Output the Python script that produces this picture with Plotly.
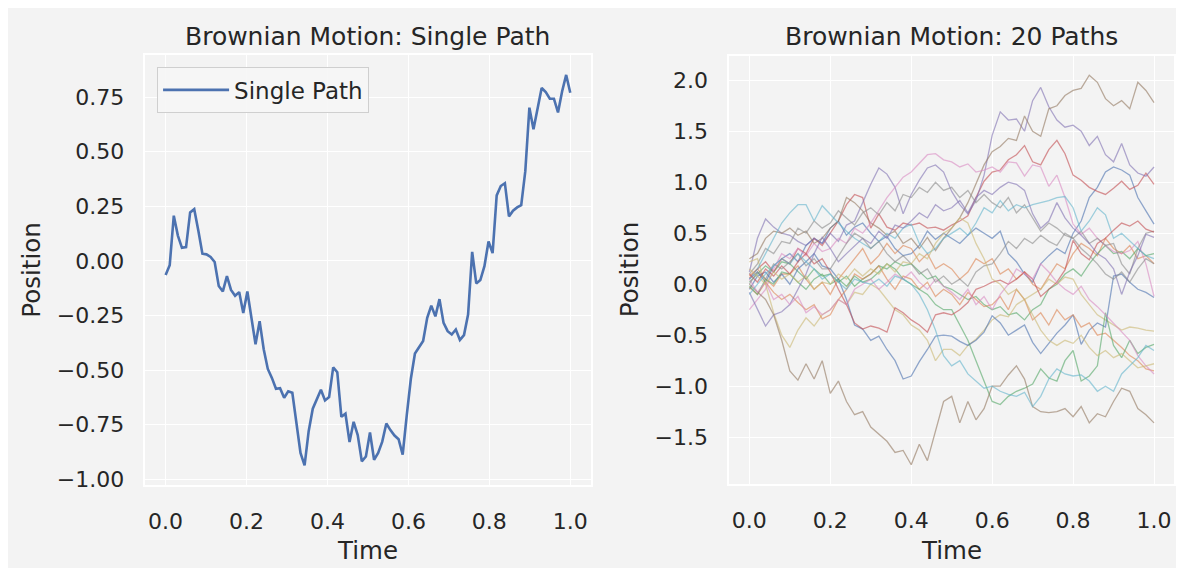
import numpy as np
import plotly.graph_objects as go

# ---------------- data ----------------
single_path = [
    -0.065, -0.020, 0.207, 0.116, 0.060, 0.063, 0.222, 0.237, 0.139, 0.033,
    0.030, 0.018, -0.005, -0.115, -0.140, -0.070, -0.133, -0.160, -0.143, -0.239,
    -0.140, -0.260, -0.382, -0.276, -0.405, -0.495, -0.536, -0.586, -0.583, -0.627,
    -0.597, -0.604, -0.737, -0.880, -0.937, -0.780, -0.677, -0.631, -0.590, -0.639,
    -0.624, -0.488, -0.510, -0.714, -0.700, -0.830, -0.737, -0.798, -0.918, -0.896,
    -0.786, -0.911, -0.880, -0.828, -0.745, -0.775, -0.800, -0.817, -0.888, -0.707,
    -0.540, -0.424, -0.393, -0.367, -0.261, -0.205, -0.254, -0.175, -0.284, -0.322,
    -0.337, -0.314, -0.362, -0.340, -0.246, 0.041, -0.103, -0.088, -0.024, 0.089,
    0.036, 0.300, 0.343, 0.356, 0.204, 0.230, 0.245, 0.255, 0.411, 0.702,
    0.603, 0.698, 0.792, 0.773, 0.743, 0.743, 0.680, 0.776, 0.852, 0.770,
]

path_01 = [0.05, 0.12, 0.02, 0.18, 0.25, 0.30, 0.22, 0.38, 0.45, 0.40,
           0.55, 0.62, 0.48, 0.56, 0.60, 0.50, 0.42, 0.47, 0.35, 0.28,
           0.30, 0.38, 0.52, 0.44, 0.50, 0.45, 0.40, 0.48, 0.55, 0.50,
           0.45, 0.52, 0.30, 0.22, 0.10, 0.02, 0.20, 0.28, 0.35, 0.30,
           0.50, 0.62, 0.85, 0.95, 1.10, 1.15, 1.12, 1.07, 0.85, 0.72, 0.59]
path_02 = [-0.05, 0.08, 0.12, 0.02, 0.10, 0.00, 0.15, 0.22, 0.30, 0.18,
           0.15, 0.05, -0.15, -0.40, -0.44, -0.55, -0.51, -0.64, -0.75, -0.93,
           -0.90, -0.76, -0.64, -0.51, -0.50, -0.51, -0.56, -0.60, -0.55, -0.47,
           -0.31, -0.38, -0.50, -0.45, -0.40, -0.57, -0.68, -0.58, -0.48, -0.40,
           -0.30, -0.59, -0.45, -0.38, -0.42, 0.08, 0.10, 0.02, -0.05, -0.08, -0.13]
path_03 = [0.08, 0.15, 0.05, -0.02, 0.10, 0.10, 0.18, 0.05, -0.05, 0.02,
           -0.10, 0.05, 0.15, 0.25, 0.35, 0.20, 0.28, 0.40, 0.30, 0.38,
           0.35, 0.22, 0.30, 0.15, 0.20, 0.15, 0.05, 0.12, 0.25, 0.20,
           0.25, 0.10, 0.15, 0.05, 0.12, 0.00, -0.05, 0.08, 0.20, 0.15,
           0.30, 0.40, 0.35, 0.28, 0.45, 0.35, 0.30, 0.38, 0.25, 0.28, 0.20]
path_04 = [-0.03, -0.10, 0.02, -0.08, -0.15, -0.10, -0.18, -0.25, -0.20, -0.34,
           -0.30, -0.15, -0.05, 0.10, 0.05, 0.10, 0.18, 0.05, -0.05, 0.08,
           0.05, -0.05, 0.02, -0.12, -0.05, -0.10, -0.20, -0.08, -0.15, -0.22,
           -0.20, -0.12, -0.25, -0.05, -0.15, -0.35, -0.28, -0.40, -0.25, -0.35,
           -0.30, -0.42, -0.38, -0.50, -0.48, -0.55, -0.62, -0.70, -0.75, -0.83, -0.85]
path_05 = [0.02, 0.10, 0.18, 0.12, 0.22, 0.20, 0.12, 0.05, 0.15, 0.08,
           0.10, 0.02, 0.08, -0.02, 0.05, 0.10, 0.18, 0.15, 0.22, 0.18,
           0.20, 0.12, 0.05, 0.08, -0.02, -0.05, -0.10, -0.15, -0.12, -0.20,
           -0.25, -0.22, -0.30, -0.28, -0.35, -0.25, -0.20, -0.05, 0.00, 0.10,
           0.15, 0.08, 0.20, 0.30, 0.38, 0.30, 0.32, 0.25, 0.35, 0.28, 0.30]
path_06 = [-0.02, -0.10, 0.05, 0.00, 0.12, 0.10, 0.02, -0.05, 0.05, 0.10,
           0.00, 0.05, -0.02, 0.08, 0.02, 0.05, 0.12, 0.20, 0.15, 0.05,
           0.00, -0.05, -0.10, -0.20, -0.25, -0.25, -0.40, -0.55, -0.75, -0.95,
           -1.15, -1.18, -1.10, -1.05, -1.02, -0.98, -0.83, -0.92, -0.95, -0.75,
           -0.65, -0.95, -0.90, -0.80, -0.28, -0.60, -0.72, -0.55, -0.68, -0.62, -0.59]
path_07 = [0.06, 0.15, 0.22, 0.12, 0.25, 0.20, 0.35, 0.30, 0.45, 0.38,
           0.50, 0.62, 0.78, 0.88, 0.85, 0.55, 0.69, 0.56, 0.53, 0.60,
           0.58, 0.60, 0.55, 0.56, 0.53, 0.58, 0.62, 0.67, 0.85, 1.01,
           1.10, 1.12, 1.22, 1.27, 1.36, 1.20, 1.17, 1.32, 1.41, 1.28,
           1.07, 1.02, 0.95, 0.91, 0.88, 0.94, 1.01, 0.93, 0.97, 1.09, 0.98]
path_08 = [0.10, 0.02, 0.15, 0.08, 0.18, 0.10, 0.22, 0.30, 0.20, 0.25,
           0.12, -0.05, -0.20, -0.38, -0.44, -0.41, -0.43, -0.47, -0.23, -0.28,
           -0.35, -0.40, -0.47, -0.30, -0.28, -0.30, -0.25, -0.18, -0.05, -0.02,
           0.02, 0.04, 0.00, 0.05, 0.12, 0.05, -0.12, -0.05, 0.02, 0.14,
           0.43, 0.30, 0.24, 0.40, 0.45, 0.53, 0.60, 0.57, 0.62, 0.54, 0.51]
path_09 = [0.12, 0.45, 0.64, 0.56, 0.50, 0.48, 0.42, 0.38, 0.45, 0.40,
           0.50, 0.42, 0.58, 0.62, 0.80, 0.98, 1.14, 1.08, 0.95, 0.69,
           0.88, 1.02, 1.14, 1.17, 1.10, 0.91, 0.78, 0.69, 0.82, 1.07,
           1.46, 1.69, 1.61, 1.62, 1.50, 1.80, 1.93, 1.74, 1.61, 1.54,
           1.56, 1.50, 1.36, 1.45, 1.27, 1.20, 1.38, 1.17, 1.09, 1.06, 1.15]
path_10 = [-0.08, -0.25, -0.41, -0.30, -0.27, -0.20, -0.05, 0.10, 0.30, 0.46,
           0.35, 0.22, 0.30, 0.38, 0.45, 0.40, 0.52, 0.45, 0.58, 0.55,
           0.62, 0.70, 0.65, 0.78, 0.72, 0.75, 0.82, 0.70, 0.85, 0.92,
           0.88, 0.95, 1.00, 0.98, 0.92, 0.69, 0.55, 0.62, 0.80, 0.65,
           0.55, 0.48, 0.40, 0.30, 0.25, 0.15, -0.10, 0.12, 0.28, 0.49, 0.46]
path_11 = [0.25, 0.30, 0.45, 0.52, 0.50, 0.55, 0.48, 0.52, 0.40, 0.45,
           0.55, 0.62, 0.85, 0.80, 0.72, 0.60, 0.55, 0.48, 0.52, 0.40,
           0.45, 0.35, 0.46, 0.33, 0.45, 0.55, 0.65, 0.80, 0.98, 1.17,
           1.30, 1.35, 1.43, 1.41, 1.65, 1.50, 1.45, 1.72, 1.75, 1.85,
           1.90, 1.92, 2.05, 1.98, 1.82, 1.75, 1.80, 1.72, 1.98, 1.90, 1.78]
path_12 = [0.00, -0.08, -0.15, -0.30, -0.55, -0.85, -0.94, -0.78, -0.93, -0.75,
           -1.07, -0.95, -1.15, -1.28, -1.25, -1.40, -1.47, -1.54, -1.65, -1.63,
           -1.77, -1.57, -1.73, -1.45, -1.15, -1.10, -1.36, -1.15, -1.33, -1.22,
           -1.00, -1.00, -0.89, -0.80, -0.93, -1.20, -1.25, -1.26, -1.25, -1.22,
           -1.30, -1.20, -1.36, -1.27, -1.30, -1.15, -1.02, -1.05, -1.22, -1.28, -1.36]
path_13 = [-0.25, -0.15, -0.05, 0.15, 0.30, 0.25, 0.35, 0.28, 0.40, 0.32,
           0.35, 0.45, 0.40, 0.55, 0.50, 0.60, 0.72, 0.85, 0.95, 1.05,
           1.10, 1.18, 1.27, 1.28, 1.22, 1.20, 1.15, 1.18, 1.10, 1.12,
           1.15, 1.10, 1.20, 1.19, 1.06, 1.17, 1.15, 0.96, 1.07, 0.85,
           0.59, 0.49, 0.55, 0.45, 0.38, 0.32, 0.30, 0.33, 0.42, 0.20, -0.12]
path_14 = [0.05, -0.08, 0.02, -0.15, -0.10, -0.20, -0.12, -0.28, -0.22, -0.30,
           -0.25, -0.15, -0.20, -0.05, 0.00, 0.05, -0.05, 0.02, 0.10, 0.05,
           0.12, 0.02, -0.05, 0.05, -0.02, -0.08, -0.15, -0.05, -0.20, -0.12,
           -0.25, -0.10, 0.00, 0.15, 0.10, 0.05, 0.20, 0.12, 0.02, -0.05,
           -0.10, -0.02, -0.15, -0.22, -0.30, -0.38, -0.47, -0.55, -0.70, -0.80, -0.88]
path_15 = [0.10, 0.20, 0.35, 0.30, 0.42, 0.40, 0.55, 0.50, 0.62, 0.55,
           0.60, 0.72, 0.65, 0.58, 0.70, 0.75, 0.68, 0.80, 0.72, 0.88,
           0.85, 0.95, 0.90, 1.00, 0.92, 0.95, 0.85, 0.92, 0.80, 0.88,
           0.80, 0.75, 0.85, 0.70, 0.78, 0.65, 0.52, 0.60, 0.55, 0.48,
           0.45, 0.52, 0.40, 0.45, 0.38, 0.40, 0.20, 0.10, 0.35, 0.50, 0.52]
path_16 = [0.00, 0.12, 0.05, 0.20, 0.15, 0.22, 0.30, 0.18, 0.25, 0.15,
           0.15, 0.28, 0.40, 0.50, 0.45, 0.35, 0.42, 0.30, 0.22, 0.28,
           0.20, 0.10, 0.15, 0.02, 0.08, 0.00, 0.05, -0.02, 0.12, 0.18,
           0.20, 0.30, 0.42, 0.35, 0.45, 0.40, 0.48, 0.42, 0.38, 0.50,
           0.45, 0.35, 0.28, 0.20, 0.10, 0.05, 0.12, 0.02, 0.15, 0.25, 0.20]
path_17 = [0.22, 0.25, 0.00, -0.28, -0.50, -0.62, -0.45, -0.33, -0.41, -0.30,
           -0.25, -0.15, -0.20, -0.08, -0.10, 0.00, -0.05, -0.15, -0.25, -0.30,
           -0.40, -0.45, -0.55, -0.75, -0.64, -0.64, -0.70, -0.60, -0.54, -0.45,
           -0.35, -0.30, -0.32, -0.20, -0.15, -0.10, -0.05, 0.05, 0.00, 0.07,
           0.05, -0.10, -0.20, -0.30, -0.35, -0.40, -0.45, -0.42, -0.43, -0.45, -0.46]
path_18 = [0.15, 0.08, 0.00, 0.12, 0.05, 0.10, 0.02, 0.08, -0.05, 0.02,
           0.00, 0.10, 0.05, 0.15, 0.08, 0.15, 0.10, 0.20, 0.12, 0.22,
           0.20, 0.30, 0.25, 0.40, 0.50, 0.55, 0.65, 0.60, 0.40, 0.25,
           0.05, 0.00, -0.10, -0.05, -0.15, -0.30, -0.45, -0.55, -0.60, -0.55,
           -0.58, -0.50, -0.62, -0.70, -0.65, -0.72, -0.68, -0.75, -0.82, -0.80, -0.78]
path_19 = [0.05, 0.15, 0.30, 0.45, 0.60, 0.70, 0.78, 0.78, 0.62, 0.77,
           0.68, 0.60, 0.52, 0.45, 0.40, 0.35, 0.42, 0.50, 0.45, 0.55,
           0.59, 0.40, 0.30, 0.35, 0.45, 0.50, 0.55, 0.48, 0.60, 0.75,
           0.70, 0.82, 0.72, 0.78, 0.75, 0.78, 0.80, 0.82, 0.85, 0.86,
           0.75, 0.52, 0.62, 0.75, 0.68, 0.45, 0.50, 0.42, 0.35, 0.28, 0.25]
path_20 = [-0.10, 0.00, 0.10, 0.18, 0.25, 0.20, 0.30, 0.22, 0.15, 0.05,
           0.10, 0.02, -0.05, 0.05, 0.02, 0.00, 0.05, -0.02, 0.08, 0.05,
           0.00, -0.10, -0.25, -0.45, -0.70, -0.80, -0.75, -0.88, -0.95, -1.02,
           -1.00, -1.05, -1.08, -1.10, -1.06, -1.20, -1.10, -0.93, -0.83, -0.88,
           -0.90, -0.89, -0.95, -1.05, -1.00, -1.05, -0.88, -0.80, -0.72, -0.60, -0.65]

multi_paths = [path_01, path_03, path_05, path_07, path_09, path_11, path_13, path_15, path_17, path_19,
               path_02, path_04, path_06, path_08, path_10, path_12, path_14, path_16, path_18, path_20]
palette = ["#4C72B0", "#DD8452", "#55A868", "#C44E52", "#8172B3",
           "#937860", "#DA8BC3", "#8C8C8C", "#CCB974", "#64B5CD"]

x_ticks = [0.0, 0.2, 0.4, 0.6, 0.8, 1.0]
left_y_ticks = [-1.00, -0.75, -0.50, -0.25, 0.00, 0.25, 0.50, 0.75]
right_y_ticks = [-1.5, -1.0, -0.5, 0.0, 0.5, 1.0, 1.5, 2.0]

# ---------------- layout helpers ----------------
# the page body adds an 8 px white margin, so the figure itself is the grey panel
OFF = 8
W, H = 1168, 560
BG = "#f3f3f3"
FONT = "DejaVu Sans"
TXT = "#262626"


def px_x(p):
    return (p - OFF) / W


def px_y(p):
    return 1 - (p - OFF) / H


def fmt(v, d):
    s = f"{abs(v):.{d}f}"
    return ("\u2212" + s) if v < 0 else s


def pad_range(vals):
    lo, hi = min(vals), max(vals)
    p = 0.05 * (hi - lo)
    return [lo - p, hi + p]


fig = go.Figure()

t_single = np.linspace(0, 1, len(single_path))
fig.add_trace(go.Scatter(x=t_single, y=single_path, mode="lines", name="Single Path",
                         line=dict(color="#4C72B0", width=2.6), xaxis="x", yaxis="y"))

all_vals = []
for k, p in enumerate(multi_paths):
    t = np.linspace(0, 1, len(p))
    all_vals += p
    fig.add_trace(go.Scatter(x=t, y=p, mode="lines", showlegend=False, opacity=0.6,
                             line=dict(color=palette[k % 10], width=1.3), xaxis="x2", yaxis="y2"))

axis_common = dict(showgrid=True, gridcolor="white", gridwidth=1.4, zeroline=False,
                   showline=True, linecolor="white", linewidth=1.5, mirror=True,
                   ticks="outside", tickcolor="rgba(0,0,0,0)",
                   tickfont=dict(family=FONT, size=22, color=TXT))

fig.update_layout(
    width=W, height=H, margin=dict(l=0, r=0, t=0, b=0),
    paper_bgcolor=BG, plot_bgcolor=BG,
    font=dict(family=FONT, color=TXT),
    xaxis=dict(domain=[px_x(145.5), px_x(591.0)], anchor="y", range=[-0.05, 1.05],
               tickvals=x_ticks, ticktext=[fmt(v, 1) for v in x_ticks], ticklen=16, **axis_common),
    yaxis=dict(domain=[px_y(491.0), px_y(56.0)], anchor="x", range=pad_range(single_path),
               tickvals=left_y_ticks, ticktext=[fmt(v, 2) for v in left_y_ticks], ticklen=15, **axis_common),
    xaxis2=dict(domain=[px_x(729.75), px_x(1175.25)], anchor="y2", range=[-0.05, 1.05],
                tickvals=x_ticks, ticktext=[fmt(v, 1) for v in x_ticks], ticklen=16, **axis_common),
    yaxis2=dict(domain=[px_y(490.2), px_y(56.3)], anchor="x2", range=pad_range(all_vals),
                tickvals=right_y_ticks, ticktext=[fmt(v, 1) for v in right_y_ticks], ticklen=15, **axis_common),
    legend=dict(x=px_x(157), y=px_y(68), xanchor="left", yanchor="top",
                bgcolor="rgba(246,246,246,0.85)", bordercolor="#cfcfcf", borderwidth=1.2,
                itemwidth=66,
                font=dict(family=FONT, size=23, color=TXT)),
    showlegend=True,
)

ann = [
    dict(text="Brownian Motion: Single Path", x=px_x(368.25), y=px_y(37), size=25, angle=0),
    dict(text="Brownian Motion: 20 Paths", x=px_x(952.5), y=px_y(37), size=25, angle=0),
    dict(text="Time", x=px_x(368.25), y=px_y(557), size=24.5, angle=0),
    dict(text="Time", x=px_x(952.5), y=px_y(557), size=24.5, angle=0),
    dict(text="Position", x=px_x(32), y=px_y(273), size=24.5, angle=-90),
    dict(text="Position", x=px_x(630), y=px_y(273), size=24.5, angle=-90),
]
for a in ann:
    fig.add_annotation(text=a["text"], x=a["x"], y=a["y"], xref="paper", yref="paper",
                       xanchor="center", yanchor="middle", showarrow=False, textangle=a["angle"],
                       font=dict(family=FONT, size=a["size"], color=TXT))

fig.write_html("out.html")
